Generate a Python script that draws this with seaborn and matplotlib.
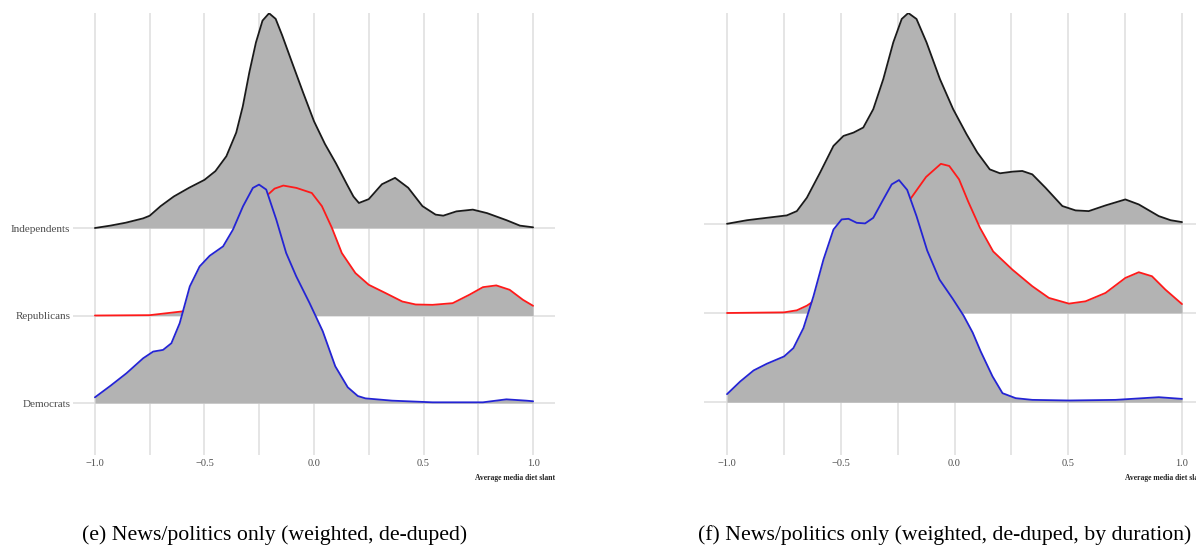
import numpy as np
import pandas as pd
import seaborn as sns
import matplotlib
matplotlib.use("Agg")
import matplotlib.pyplot as plt

# ---------------- data (ridge heights, in units of row spacing) ----------------
groups = ["Democrats", "Republicans", "Independents"]
captions = ["(e) News/politics only (weighted, de-duped)",
            "(f) News/politics only (weighted, de-duped, by duration)"]
xlabel = "Average media diet slant"
xticks_major = [-1.0, -0.5, 0.0, 0.5, 1.0]
xtick_labels = ["\u22121.0", "\u22120.5", "0.0", "0.5", "1.0"]

# panel (e)
e_ind_x = [-1.0, -0.93, -0.86, -0.78, -0.75, -0.70, -0.64, -0.57, -0.50, -0.45, -0.40, -0.355, -0.325,
           -0.295, -0.265, -0.235, -0.205, -0.175, -0.145, -0.10, -0.05, 0.0, 0.05, 0.10, 0.15, 0.18,
           0.205, 0.25, 0.31, 0.37, 0.43, 0.495, 0.555, 0.59, 0.65, 0.725, 0.79, 0.88, 0.94, 1.0]
e_ind_h = [0.0, 0.027, 0.06, 0.11, 0.14, 0.25, 0.36, 0.46, 0.55, 0.65, 0.82, 1.09, 1.39,
           1.78, 2.12, 2.37, 2.454, 2.39, 2.20, 1.89, 1.55, 1.22, 0.96, 0.74, 0.50, 0.36,
           0.286, 0.33, 0.50, 0.573, 0.46, 0.25, 0.153, 0.141, 0.19, 0.21, 0.17, 0.088, 0.027, 0.008]
e_rep_x = [-1.0, -0.75, -0.67, -0.59, -0.5, -0.4, -0.3, -0.21, -0.18, -0.14, -0.08, -0.01, 0.036, 0.082,
           0.127, 0.189, 0.25, 0.327, 0.403, 0.464, 0.541, 0.633, 0.709, 0.771, 0.832, 0.893, 0.954, 1.0]
e_rep_h = [0.0, 0.004, 0.027, 0.05, 0.15, 0.45, 1.0, 1.382, 1.45, 1.485, 1.458, 1.40, 1.25, 1.0,
           0.714, 0.485, 0.351, 0.256, 0.160, 0.126, 0.122, 0.141, 0.237, 0.324, 0.344, 0.294, 0.179, 0.111]
e_dem_x = [-1.0, -0.93, -0.856, -0.78, -0.734, -0.689, -0.651, -0.613, -0.567, -0.522, -0.476, -0.415,
           -0.37, -0.324, -0.279, -0.251, -0.218, -0.172, -0.127, -0.081, -0.02, 0.04, 0.097, 0.154,
           0.2, 0.235, 0.357, 0.541, 0.771, 0.878, 0.969, 1.0]
e_dem_h = [0.065, 0.195, 0.34, 0.511, 0.588, 0.607, 0.683, 0.912, 1.332, 1.561, 1.683, 1.79,
           1.981, 2.248, 2.458, 2.496, 2.439, 2.095, 1.714, 1.447, 1.141, 0.82, 0.42, 0.18,
           0.08, 0.053, 0.027, 0.008, 0.008, 0.042, 0.027, 0.02]

# panel (f)
f_ind_x = [-1.0, -0.912, -0.825, -0.737, -0.693, -0.649, -0.591, -0.532, -0.488, -0.444, -0.401, -0.357,
           -0.313, -0.269, -0.232, -0.203, -0.167, -0.123, -0.064, -0.006, 0.053, 0.10, 0.155, 0.2,
           0.257, 0.298, 0.342, 0.4, 0.474, 0.532, 0.59, 0.664, 0.751, 0.81, 0.898, 0.95, 1.0]
f_ind_h = [0.0, 0.04, 0.067, 0.094, 0.142, 0.292, 0.573, 0.873, 0.985, 1.022, 1.079, 1.285,
           1.622, 2.034, 2.296, 2.363, 2.296, 2.034, 1.622, 1.285, 1.004, 0.80, 0.61, 0.566,
           0.585, 0.592, 0.554, 0.404, 0.199, 0.150, 0.142, 0.206, 0.273, 0.217, 0.086, 0.04, 0.019]
f_rep_x = [-1.0, -0.749, -0.693, -0.649, -0.62, -0.55, -0.45, -0.35, -0.25, -0.19, -0.125, -0.06, -0.023,
           0.02, 0.06, 0.111, 0.17, 0.254, 0.342, 0.415, 0.503, 0.576, 0.664, 0.751, 0.81, 0.868, 0.927, 1.0]
f_rep_h = [0.0, 0.007, 0.03, 0.082, 0.131, 0.35, 0.7, 0.95, 1.1, 1.292, 1.525, 1.672, 1.648,
           1.498, 1.25, 0.96, 0.69, 0.487, 0.30, 0.169, 0.105, 0.131, 0.225, 0.393, 0.457, 0.412, 0.262, 0.10]
f_dem_x = [-1.0, -0.942, -0.883, -0.825, -0.749, -0.708, -0.664, -0.62, -0.576, -0.532, -0.496, -0.466,
           -0.43, -0.393, -0.357, -0.313, -0.276, -0.244, -0.208, -0.167, -0.12, -0.066, -0.008, 0.04,
           0.08, 0.115, 0.167, 0.211, 0.269, 0.342, 0.503, 0.708, 0.898, 1.0]
f_dem_h = [0.09, 0.232, 0.356, 0.431, 0.513, 0.607, 0.831, 1.187, 1.599, 1.936, 2.049, 2.056,
           2.011, 2.004, 2.067, 2.273, 2.442, 2.49, 2.38, 2.086, 1.70, 1.375, 1.16, 0.97,
           0.78, 0.57, 0.29, 0.101, 0.045, 0.026, 0.019, 0.026, 0.056, 0.037]

# ---------------- style ----------------
sns.set_theme(style="white")
plt.rcParams["font.family"] = ["Liberation Serif", "DejaVu Serif"]

FILL = "#b3b3b3"
GRID = "#dedede"
LINECOL = {"Independents": "#1a1a1a", "Republicans": "#ff1a1a", "Democrats": "#2424d4"}

fig = plt.figure(figsize=(11.96, 5.48), dpi=100)
W, H = 1196.0, 548.0


def px_axes(x0, x1, y0, y1):
    return fig.add_axes([x0 / W, 1 - y1 / H, (x1 - x0) / W, (y1 - y0) / H])


ax_e = px_axes(73, 555, 13, 455)
ax_f = px_axes(704.25, 1204.75, 13, 455)

panels = [
    (ax_e, {"Democrats": (e_dem_x, e_dem_h), "Republicans": (e_rep_x, e_rep_h),
            "Independents": (e_ind_x, e_ind_h)}, (-0.594, 4.457), True, captions[0], 275),
    (ax_f, {"Democrats": (f_dem_x, f_dem_h), "Republicans": (f_rep_x, f_rep_h),
            "Independents": (f_ind_x, f_ind_h)}, (-0.592, 4.363), False, captions[1], 945),
]

for ax, data, ylim, show_y, cap, capx in panels:
    ax.set_xlim(-1.1, 1.1)
    ax.set_ylim(*ylim)
    ax.set_xticks(xticks_major)
    ax.set_xticks([-0.75, -0.25, 0.25, 0.75], minor=True)
    ax.set_xticklabels(xtick_labels, fontsize=7.5, color="#4d4d4d")
    ax.set_yticks(range(len(groups)))
    if show_y:
        ax.set_yticklabels(groups, fontsize=8, color="#4d4d4d")
    else:
        ax.set_yticklabels([])
    ax.tick_params(axis="both", which="both", length=0)
    ax.tick_params(axis="x", pad=3)
    ax.tick_params(axis="y", pad=2)
    ax.grid(True, which="both", axis="x", color=GRID, linewidth=1.1, zorder=0)
    ax.grid(True, which="major", axis="y", color=GRID, linewidth=1.1, zorder=0)
    ax.set_axisbelow(True)
    for s in ax.spines.values():
        s.set_visible(False)
    ax.set_facecolor("white")

    # draw from top row (back) to bottom row (front)
    z = 2
    for gi in reversed(range(len(groups))):
        g = groups[gi]
        xs, hs = data[g]
        base = float(gi)
        ys = base + np.asarray(hs)
        ax.fill_between(xs, base, ys, color=FILL, linewidth=0, zorder=z)
        df = pd.DataFrame({"x": xs, "y": ys})
        sns.lineplot(data=df, x="x", y="y", ax=ax, color=LINECOL[g], linewidth=1.3,
                     sort=False, estimator=None, zorder=z + 0.5)
        z += 1

    ax.set_ylabel("")
    ax.set_xlabel(xlabel, fontsize=5.5, fontweight="bold", color="#222222", loc="right", labelpad=4)
    fig.text(capx / W, 1 - 535 / H, cap, ha="center", va="center", fontsize=15.7, color="black")

fig.savefig("out.png", dpi=100)
